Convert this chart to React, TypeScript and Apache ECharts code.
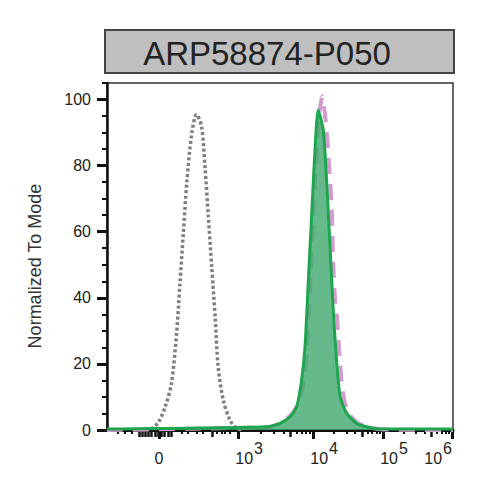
import React, { useEffect, useRef } from "react";
import * as echarts from "echarts";

const titleText = "ARP58874-P050";
const yAxisTitle = "Normalized To Mode";

const yTickValues = [0, 20, 40, 60, 80, 100];
const yMinorTickValues = [5, 10, 15, 25, 30, 35, 45, 50, 55, 65, 70, 75, 85, 90, 95, 105];

// x axis in display channels (0..1024, biexponential display)
const xDecadeLabels = ["0", "10^3", "10^4", "10^5", "10^6"];
const xDecadePositions = [154, 388, 610, 817, 1021];
const xLowMinorTicks = [33, 53, 74, 222, 240, 266, 284, 326, 340, 349, 364];
const xLowMediumTicks = [95, 104, 112, 121, 130, 142, 151, 160, 169, 180, 189, 311];

// isotype control (grey dotted)
const isotypeX = [130, 151, 172, 191, 206, 216, 226, 236, 251, 265, 280, 290, 300, 310, 320, 329, 344, 364, 384, 400];
const isotypeY = [0.3, 2.1, 7.0, 14.2, 29.3, 44.5, 59.6, 74.7, 89.9, 95.5, 91.7, 79.6, 64.4, 49.3, 34.2, 19.1, 9.1, 3.0, 0.5, 0];

// reference sample (pink dashed)
const refX = [0, 482, 518, 547, 568, 583, 593, 602, 611, 621, 630, 637, 647, 654, 660, 665, 669, 675, 680, 685, 690, 695, 704, 719, 743, 772, 823, 1024];
const refY = [0, 0.9, 2.4, 4.8, 8.5, 15.1, 27.2, 45.4, 66.6, 84.7, 96.8, 101, 93.8, 85.6, 75.6, 67.5, 51.4, 39.3, 35.4, 27.2, 20.3, 13.6, 8.2, 4.5, 2.1, 0.9, 0.15, 0];

// stained sample (green filled)
const stainX = [0, 473, 512, 542, 561, 576, 586, 596, 606, 616, 625, 640, 650, 660, 670, 680, 690, 709, 739, 769, 808, 1024];
const stainY = [0.3, 1.0, 2.0, 4.0, 7.0, 15.1, 25.2, 45.4, 65.7, 85.7, 96.8, 90.8, 75.6, 55.5, 35.4, 20.3, 10.1, 5.1, 2.0, 1.0, 0.3, 0.3];

const FONT = "'Liberation Sans', Arial, sans-serif";

function zip(xs: number[], ys: number[]) {
  return xs.map((x, i) => [x, ys[i]]);
}

export default function App() {
  const ref = useRef<HTMLDivElement>(null);
  useEffect(() => {
    if (!ref.current) return;
    const chart = echarts.init(ref.current, undefined, { renderer: "svg" });

    const decades = xDecadePositions.slice(1);
    const minorTicks = [...xLowMinorTicks];
    const mediumTicks = [...xLowMediumTicks];
    for (let k = 0; k < decades.length - 1; k++) {
      const a = decades[k];
      const b = decades[k + 1];
      for (let m = 2; m <= 9; m++) {
        const p = a + Math.log10(m) * (b - a);
        if (m === 5) mediumTicks.push(p);
        else minorTicks.push(p);
      }
    }

    const labelFormatter = (v: number) => {
      let idx = 0;
      let best = Infinity;
      xDecadePositions.forEach((p, i) => {
        if (Math.abs(p - v) < best) {
          best = Math.abs(p - v);
          idx = i;
        }
      });
      const lab = xDecadeLabels[idx];
      if (lab.indexOf("^") >= 0) {
        const [b, e] = lab.split("^");
        return `{b|${b}}{s|${e}}`;
      }
      return `{p|${lab}}`;
    };

    const tickAxisBase = {
      type: "value" as const,
      min: 0,
      max: 1024,
      position: "bottom" as const,
      offset: 0,
      axisLine: { show: false },
      axisLabel: { show: false },
      splitLine: { show: false },
    };

    chart.setOption({
      animation: false,
      grid: {
        left: 107,
        top: 83,
        right: 37,
        bottom: 60,
        show: true,
        borderColor: "#333",
        borderWidth: 1.5,
        backgroundColor: "transparent",
      },
      xAxis: [
        {
          type: "value",
          min: 0,
          max: 1024,
          position: "bottom",
          offset: 0,
          axisLine: { show: true, lineStyle: { color: "#111", width: 3 } },
          axisTick: { show: true, customValues: xDecadePositions, length: 9, lineStyle: { color: "#111", width: 3 } },
          axisLabel: {
            customValues: xDecadePositions,
            formatter: labelFormatter,
            align: "center",
            alignMaxLabel: "right",
            margin: 10,
            rich: {
              b: { fontSize: 16, color: "#222", fontFamily: FONT, verticalAlign: "bottom", padding: [0, 0, 0, 22] },
              s: { fontSize: 16, color: "#222", fontFamily: FONT, verticalAlign: "bottom", padding: [0, 0, 10, 1] },
              p: { fontSize: 16, color: "#222", fontFamily: FONT, verticalAlign: "bottom", padding: [10, 0, 0, 0] },
            },
          },
          splitLine: { show: false },
        },
        {
          ...tickAxisBase,
          axisTick: { show: true, customValues: mediumTicks, length: 7, lineStyle: { color: "#111", width: 2.5 } },
        },
        {
          ...tickAxisBase,
          axisTick: { show: true, customValues: minorTicks, length: 4, lineStyle: { color: "#111", width: 2 } },
        },
      ],
      yAxis: [
        {
          type: "value",
          min: 0,
          max: 105,
          position: "left",
          axisLine: { show: true, lineStyle: { color: "#111", width: 2.5 } },
          axisTick: { show: true, customValues: yTickValues, length: 10, lineStyle: { color: "#111", width: 3 } },
          axisLabel: { customValues: yTickValues, fontSize: 16, color: "#222", fontFamily: FONT, margin: 16 },
          splitLine: { show: false },
        },
        {
          type: "value",
          min: 0,
          max: 105,
          position: "left",
          offset: 0,
          axisLine: { show: false },
          axisTick: { show: true, customValues: yMinorTickValues, length: 5, lineStyle: { color: "#111", width: 2 } },
          axisLabel: { show: false },
          splitLine: { show: false },
        },
      ],
      graphic: [
        {
          type: "rect",
          shape: { x: 105, y: 30, width: 349, height: 43 },
          style: { fill: "#bfbfbf", stroke: "#444", lineWidth: 2 },
        },
        {
          type: "text",
          x: 267,
          y: 53,
          style: {
            text: titleText,
            fontSize: 33,
            fontFamily: FONT,
            fill: "#222",
            align: "center",
            verticalAlign: "middle",
          },
        },
        {
          type: "text",
          x: 35,
          y: 266,
          rotation: Math.PI / 2,
          style: {
            text: yAxisTitle,
            fontSize: 18,
            fontFamily: FONT,
            fill: "#333",
            align: "center",
            verticalAlign: "middle",
          },
        },
      ],
      series: [
        {
          type: "line",
          name: "Isotype",
          data: zip(isotypeX, isotypeY),
          symbol: "none",
          smooth: 0.3,
          lineStyle: { color: "#7f7f7f", width: 3.5, type: [3, 2.5] },
          z: 2,
        },
        {
          type: "line",
          name: "Reference",
          data: zip(refX, refY),
          symbol: "none",
          smooth: 0.15,
          lineStyle: { color: "#d59ad0", width: 4, type: [16, 10] },
          z: 3,
        },
        {
          type: "line",
          name: "Stained",
          data: zip(stainX, stainY),
          symbol: "none",
          smooth: 0.2,
          lineStyle: { color: "#1ea64f", width: 3 },
          areaStyle: { color: "#40a86d", opacity: 0.8 },
          z: 4,
        },
      ],
    });
    return () => chart.dispose();
  }, []);
  return (
    <div
      ref={ref}
      style={{ position: "fixed", left: 0, top: 0, width: 490, height: 490, background: "#fff" }}
    />
  );
}
